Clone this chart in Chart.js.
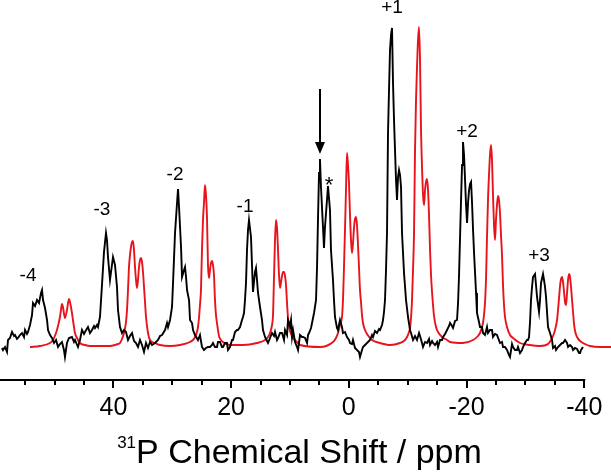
<!DOCTYPE html>
<html>
<head>
<meta charset="utf-8">
<script src="https://cdn.jsdelivr.net/npm/chart.js@4.4.1/dist/chart.umd.min.js"></script>
<style>
  html, body { margin: 0; padding: 0; background: #fff; }
  #wrap { width: 611px; height: 476px; }
</style>
</head>
<body>
<div id="wrap"><canvas id="spec" width="611" height="476"></canvas></div>
<script>
// 31P spectrum, [ppm, intensity]; measured (black) and simulated (red)
const measured = [
  [58.93,-1],[58.76,-3],[58.42,0],[58.08,-5],[57.91,7],[57.57,9],[57.23,15],[56.89,11],[56.72,12],[56.38,8],
  [56.21,9],[55.87,12],[55.53,14],[55.19,10],[55.02,17],[54.68,13],[54.51,15],[54.17,22],[53.83,32],[53.66,44],
  [53.32,41],[52.98,47],[52.64,44],[52.30,54],[52.13,57],[51.96,47],[51.62,39],[51.28,27],[51.11,17],[50.77,12],
  [50.43,9],[50.09,4],[49.75,7],[49.41,0],[49.08,3],[48.74,5],[48.40,-3],[48.23,-10],[47.89,4],[47.55,9],
  [47.04,10],[46.70,5],[46.53,7],[46.02,0],[45.68,7],[45.34,17],[45.00,13],[44.83,15],[44.32,20],[43.98,14],
  [43.64,17],[43.30,21],[43.13,19],[42.79,22],[42.62,20],[42.28,30],[41.94,62],[41.60,95],[41.26,114],[41.09,107],
  [40.92,90],[40.58,67],[40.07,90],[39.73,82],[39.39,60],[39.22,37],[38.88,20],[38.54,14],[38.20,17],[37.86,15],
  [37.52,7],[37.18,11],[36.84,14],[36.50,6],[36.16,4],[35.82,0],[35.48,7],[35.14,2],[34.80,-5],[34.46,4],
  [34.12,-1],[33.78,5],[33.44,2],[32.93,4],[32.42,7],[32.08,11],[31.74,12],[31.23,17],[30.89,24],[30.72,20],
  [30.38,27],[30.04,40],[29.87,64],[29.53,114],[29.19,144],[29.02,158],[28.85,140],[28.51,100],[28.34,70],[28.00,77],
  [27.83,80],[27.66,70],[27.49,57],[27.15,47],[26.98,27],[26.64,24],[26.47,17],[26.13,12],[25.63,7],[25.29,12],
  [24.95,0],[24.61,-3],[24.27,-1],[23.93,0],[23.59,0],[23.25,2],[23.08,4],[22.74,0],[22.40,0],[22.23,5],
  [21.89,5],[21.55,0],[21.38,0],[21.04,4],[20.70,4],[20.53,-3],[20.19,0],[19.85,7],[19.68,7],[19.34,15],
  [19.00,17],[18.83,17],[18.49,20],[18.15,27],[17.98,30],[17.81,34],[17.64,47],[17.47,64],[17.30,97],[17.13,117],
  [16.96,127],[16.62,110],[16.45,82],[16.28,55],[15.94,75],[15.77,79],[15.60,67],[15.43,54],[15.09,40],[14.75,27],
  [14.58,17],[14.24,10],[13.73,4],[13.39,9],[13.05,14],[12.71,11],[12.54,15],[12.20,7],[12.03,9],[11.69,14],
  [11.35,14],[11.01,7],[10.84,17],[10.50,12],[10.33,27],[9.99,21],[9.82,27],[9.65,10],[9.48,17],[9.14,5],
  [8.80,0],[8.63,-3],[8.29,12],[7.95,10],[7.78,10],[7.44,9],[7.10,4],[6.93,12],[6.76,14],[6.42,19],
  [6.25,24],[5.91,34],[5.57,47],[5.40,80],[5.23,130],[5.06,174],[4.90,188],[4.73,160],[4.39,120],[4.22,99],
  [4.05,120],[3.71,147],[3.54,161],[3.20,137],[3.03,97],[2.69,67],[2.52,47],[2.35,30],[2.01,19],[1.84,17],
  [1.50,27],[1.16,20],[0.99,14],[0.65,15],[0.31,10],[-0.03,7],[-0.20,4],[-0.54,3],[-0.71,7],[-1.05,-1],
  [-1.39,-3],[-1.73,-5],[-1.90,-10],[-2.24,-3],[-2.41,0],[-2.75,2],[-3.09,4],[-3.43,6],[-3.60,7],[-3.94,12],
  [-4.11,10],[-4.45,16],[-4.79,14],[-5.13,18],[-5.30,17],[-5.64,22],[-5.81,27],[-5.98,35],[-6.15,47],[-6.32,77],
  [-6.49,114],[-6.66,214],[-6.83,257],[-7.00,297],[-7.17,312],[-7.34,319],[-7.51,264],[-7.68,227],[-7.85,197],[-8.02,167],
  [-8.19,147],[-8.36,170],[-8.53,177],[-8.70,172],[-8.87,160],[-9.04,114],[-9.38,74],[-9.72,47],[-10.06,30],[-10.40,17],
  [-10.57,14],[-10.91,7],[-11.25,11],[-11.59,7],[-11.93,14],[-12.10,11],[-12.44,4],[-12.61,0],[-12.95,5],[-13.29,4],
  [-13.63,8],[-13.80,2],[-14.14,6],[-14.31,4],[-14.65,2],[-14.99,5],[-15.16,0],[-15.50,7],[-15.84,7],[-16.01,10],
  [-16.35,13],[-16.69,17],[-17.03,21],[-17.20,24],[-17.54,21],[-17.71,19],[-18.05,26],[-18.39,27],[-18.56,44],[-18.73,72],
  [-18.90,110],[-19.07,147],[-19.24,182],[-19.40,205],[-19.58,192],[-19.75,167],[-19.92,142],[-20.09,124],[-20.26,144],[-20.43,157],
  [-20.60,163],[-20.77,165],[-20.94,144],[-21.11,117],[-21.28,94],[-21.62,54],[-21.78,34],[-22.12,25],[-22.29,20],[-22.63,20],
  [-22.80,14],[-23.14,12],[-23.48,20],[-23.65,14],[-23.99,17],[-24.33,17],[-24.50,10],[-24.84,13],[-25.18,12],[-25.69,4],
  [-26.03,5],[-26.20,0],[-26.54,0],[-26.88,-3],[-27.22,-8],[-27.39,-10],[-27.73,3],[-27.90,0],[-28.24,-3],[-28.58,-3],
  [-28.75,0],[-29.09,-6],[-29.43,-3],[-29.60,0],[-29.94,4],[-30.28,7],[-30.45,7],[-30.62,10],[-30.79,25],[-30.96,47],
  [-31.13,60],[-31.30,70],[-31.64,73],[-31.81,62],[-31.98,50],[-32.32,35],[-32.49,47],[-32.66,64],[-33.00,73],[-33.17,67],
  [-33.34,60],[-33.51,50],[-33.68,35],[-33.85,20],[-34.19,14],[-34.53,7],[-34.70,-1],[-35.04,1],[-35.21,-3],[-35.55,0],
  [-35.89,2],[-36.23,4],[-36.40,4],[-36.74,7],[-37.08,4],[-37.25,0],[-37.59,2],[-37.93,0],[-38.10,-3],[-38.44,-1],
  [-38.78,-2],[-39.12,-6],[-39.29,-6],[-39.46,-3],[-39.79,0]
];

const simulated = [
  [54.17,0],[52.47,1],[50.77,4],[50.26,7],[49.75,14],[49.41,21],[49.08,30],[48.91,37],[48.74,43],[48.57,40],
  [48.23,29],[47.89,37],[47.55,48],[47.38,45],[47.04,34],[46.87,27],[46.53,14],[46.19,9],[45.68,4],[44.83,2],
  [43.98,1],[42.28,1],[40.58,1],[39.73,2],[39.22,3],[38.88,4],[38.54,8],[38.20,14],[37.86,25],[37.69,37],
  [37.52,57],[37.35,80],[37.18,92],[37.01,100],[36.84,105],[36.67,106],[36.50,97],[36.33,80],[36.16,67],[35.99,59],
  [35.82,67],[35.65,80],[35.48,87],[35.31,89],[35.14,85],[34.97,75],[34.80,60],[34.63,45],[34.46,30],[34.12,14],
  [33.78,7],[32.93,4],[32.08,2],[30.38,1],[28.69,2],[26.98,5],[26.47,7],[26.13,10],[25.80,15],[25.63,20],
  [25.46,29],[25.29,42],[25.12,57],[24.95,97],[24.78,127],[24.61,144],[24.44,162],[24.27,152],[24.10,130],[23.93,82],
  [23.76,69],[23.59,77],[23.42,84],[23.25,86],[23.08,82],[22.91,72],[22.74,47],[22.57,32],[22.40,24],[22.06,11],
  [21.72,7],[21.38,5],[20.19,2],[17.98,2],[15.60,4],[14.24,7],[13.73,10],[13.39,14],[13.05,22],[12.88,32],
  [12.71,70],[12.54,107],[12.37,127],[12.20,119],[12.03,97],[11.86,72],[11.69,59],[11.52,65],[11.35,71],[11.18,75],
  [11.01,75],[10.84,71],[10.67,62],[10.50,44],[10.33,29],[10.16,20],[9.82,13],[9.48,9],[8.80,5],[8.29,2],
  [4.90,0],[2.69,5],[2.18,9],[1.84,14],[1.50,22],[1.16,30],[0.99,47],[0.82,80],[0.65,117],[0.48,157],
  [0.31,194],[0.14,182],[-0.03,164],[-0.20,132],[-0.37,107],[-0.54,94],[-0.71,104],[-0.88,119],[-1.05,128],[-1.22,130],
  [-1.39,122],[-1.56,102],[-1.73,80],[-1.90,57],[-2.07,45],[-2.24,32],[-2.41,24],[-2.75,17],[-3.09,13],[-3.94,7],
  [-5.30,4],[-7.00,2],[-8.70,4],[-9.55,7],[-9.89,10],[-10.23,15],[-10.40,19],[-10.57,29],[-10.74,47],[-10.91,77],
  [-11.08,114],[-11.25,197],[-11.42,247],[-11.59,280],[-11.76,307],[-11.93,320],[-12.10,287],[-12.27,217],[-12.44,180],[-12.61,152],
  [-12.78,142],[-12.95,157],[-13.12,165],[-13.29,168],[-13.46,157],[-13.63,132],[-13.80,97],[-13.97,72],[-14.14,55],[-14.31,42],
  [-14.48,31],[-14.82,20],[-15.16,15],[-15.84,10],[-16.69,7],[-17.20,5],[-19.40,4],[-21.11,7],[-21.95,11],[-22.29,14],
  [-22.63,20],[-22.80,24],[-22.97,32],[-23.14,44],[-23.31,67],[-23.48,110],[-23.65,147],[-23.82,172],[-23.99,192],[-24.16,202],
  [-24.33,187],[-24.50,152],[-24.67,122],[-24.84,107],[-25.01,127],[-25.18,142],[-25.35,151],[-25.52,147],[-25.69,134],[-25.86,112],
  [-26.03,92],[-26.20,62],[-26.37,42],[-26.54,30],[-26.88,20],[-27.39,12],[-27.90,9],[-29.09,4],[-30.79,2],[-32.49,1],
  [-33.85,3],[-34.36,7],[-34.70,11],[-35.04,17],[-35.38,27],[-35.55,37],[-35.72,49],[-35.89,61],[-36.06,68],[-36.23,70],
  [-36.40,65],[-36.57,55],[-36.74,45],[-36.91,42],[-37.08,54],[-37.25,67],[-37.42,73],[-37.59,70],[-37.76,60],[-37.93,47],
  [-38.10,35],[-38.27,23],[-38.44,16],[-38.78,10],[-39.29,6],[-40.13,3],[-40.98,1],[-42.68,0],[-44.55,0]
];

// axis
const ppmMax = 59.27
const ppmMin = -44.55
const tickValues = [-40,-35,-30,-25,-20,-15,-10,-5,0,5,10,15,20,25,30,35,40,45,50,55]
const labelledTicks = [-40,-20,0,20,40]

// sideband labels: text, ppm, intensity
const sidebandLabels = [
  ['-4', 54.51, 71],
  ['-3', 41.94, 137],
  ['-2', 29.53, 172],
  ['-1', 17.64, 140],
  ['+1', -7.34, 339],
  ['+2', -20.09, 215],
  ['+3', -32.32, 91]
]
const asterisk = [3.37, 161]
const arrowMark = {ppm: 4.90, from: 258, to: 193}

const FONT = 'Liberation Sans, Arial, sans-serif'

const toXY = (arr) => arr.map(p => ({x: p[0], y: p[1]}))

const axisPlugin = {
    id: 'axisDraw',
    afterDatasetsDraw(chart) {
        const ctx = chart.ctx
        const xs = chart.scales.x
        const ys = chart.scales.y
        const area = chart.chartArea
        ctx.save()

        // annotations
        ctx.fillStyle = '#000'
        ctx.font = '19px ' + FONT
        ctx.textAlign = 'center'
        ctx.textBaseline = 'middle'
        sidebandLabels.forEach(l => {
            ctx.fillText(l[0], xs.getPixelForValue(l[1]), ys.getPixelForValue(l[2]))
        })
        ctx.font = '22px ' + FONT
        ctx.fillText('*', xs.getPixelForValue(asterisk[0]), ys.getPixelForValue(asterisk[1]))

        // arrow
        const ax = xs.getPixelForValue(arrowMark.ppm)
        const ay1 = ys.getPixelForValue(arrowMark.from)
        const ay2 = ys.getPixelForValue(arrowMark.to)
        ctx.strokeStyle = '#000'
        ctx.lineWidth = 2
        ctx.beginPath()
        ctx.moveTo(ax, ay1)
        ctx.lineTo(ax, ay2 - 10)
        ctx.stroke()
        ctx.beginPath()
        ctx.moveTo(ax - 5, ay2 - 12)
        ctx.lineTo(ax + 5, ay2 - 12)
        ctx.lineTo(ax, ay2)
        ctx.closePath()
        ctx.fill()

        // x axis line and ticks, only down to -40
        const y0 = area.bottom
        const xEnd = xs.getPixelForValue(tickValues[0])
        ctx.lineWidth = 2
        ctx.beginPath()
        ctx.moveTo(area.left, y0)
        ctx.lineTo(xEnd + 1, y0)
        ctx.stroke()
        tickValues.forEach(v => {
            const px = Math.round(xs.getPixelForValue(v))
            const len = labelledTicks.includes(v) ? 8 : 5
            ctx.beginPath()
            ctx.moveTo(px, y0)
            ctx.lineTo(px, y0 + len)
            ctx.stroke()
        })

        // axis title with superscript isotope number
        const supFont = '17px ' + FONT
        const mainFont = '34px ' + FONT
        const main = 'P Chemical Shift / ppm'
        ctx.font = supFont
        const wSup = ctx.measureText('31').width
        ctx.font = mainFont
        const wMain = ctx.measureText(main).width
        const cx = (area.left + area.right) / 2 - 6
        const x0 = cx - (wSup + wMain) / 2
        ctx.textAlign = 'left'
        ctx.textBaseline = 'alphabetic'
        ctx.font = supFont
        ctx.fillText('31', x0, y0 + 68)
        ctx.font = mainFont
        ctx.fillText(main, x0 + wSup, y0 + 83)

        ctx.restore()
    }
}

function spectrumInit() {
    const ctx = document.getElementById('spec').getContext('2d')
    window.spec = new Chart(ctx, {
        type: 'line',
        data: {
            datasets: [{
                data: toXY(measured),
                borderColor: '#000000',
                borderWidth: 1.9,
                pointRadius: 0,
                tension: 0,
            }, {
                data: toXY(simulated),
                borderColor: '#e8141c',
                borderWidth: 1.9,
                pointRadius: 0,
                cubicInterpolationMode: 'monotone',
            }]
        },
        options: {
            responsive: false,
            animation: false,
            events: [],
            layout: {
                padding: {left: 0, right: 0, top: 0, bottom: 40}
            },
            plugins: {
                legend: {display: false},
                tooltip: {enabled: false}
            },
            scales: {
                x: {
                    type: 'linear',
                    reverse: true,
                    min: ppmMin,
                    max: ppmMax,
                    afterBuildTicks: (scale) => {
                        scale.ticks = tickValues.map(v => ({value: v}))
                    },
                    grid: {display: true, drawOnChartArea: false, drawTicks: false},
                    border: {display: false},
                    ticks: {
                        autoSkip: false,
                        maxRotation: 0,
                        padding: 13,
                        color: '#000',
                        font: {family: FONT, size: 25},
                        callback: (v) => labelledTicks.includes(v) ? String(v) : ''
                    }
                },
                y: {
                    display: false,
                    min: -33,
                    max: 347
                }
            }
        },
        plugins: [axisPlugin]
    })
}

spectrumInit()
</script>
</body>
</html>
